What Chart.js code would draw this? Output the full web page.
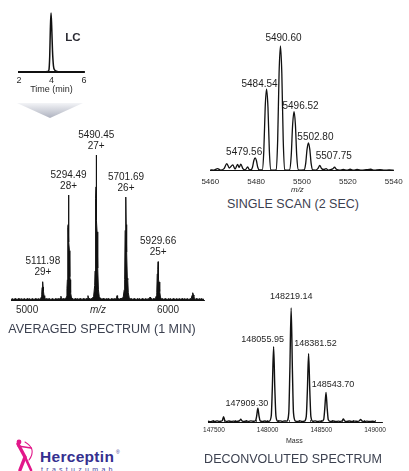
<!DOCTYPE html>
<html>
<head>
<meta charset="utf-8">
<script src="https://cdn.jsdelivr.net/npm/chart.js"></script>
<style>
html,body{margin:0;padding:0;background:#fff;}
body{width:409px;height:471px;position:relative;overflow:hidden;font-family:"Liberation Sans",Arial,sans-serif;}
canvas{position:absolute;}
svg{position:absolute;}
.cap{position:absolute;transform:translate(-50%,-50%);white-space:nowrap;font-size:12.5px;color:#3c4150;}
</style>
</head>
<body>
<canvas id="lc" width="110" height="100" style="left:0;top:0"></canvas>
<svg style="left:0;top:98px" width="100" height="24">
  <defs>
    <linearGradient id="ag" x1="0" y1="0" x2="0" y2="1">
      <stop offset="0" stop-color="#f3f4f7"/>
      <stop offset="1" stop-color="#aeb2bf"/>
    </linearGradient>
  </defs>
  <polygon points="17,5 83,5 50,20" fill="url(#ag)"/>
</svg>
<canvas id="scan" width="214" height="176" style="left:195px;top:20px"></canvas>
<canvas id="avg" width="215" height="205" style="left:0;top:120px"></canvas>
<canvas id="dec" width="214" height="160" style="left:195px;top:290px"></canvas>
<div class="cap" style="left:293px;top:204px">SINGLE SCAN (2 SEC)</div>
<div class="cap" style="left:102px;top:329px">AVERAGED SPECTRUM (1 MIN)</div>
<div class="cap" style="left:293px;top:459px">DECONVOLUTED SPECTRUM</div>
<svg style="left:0;top:430px" width="130" height="41">
  <g stroke="#e2188a" fill="none" stroke-linecap="round">
    <path d="M25 12 Q37 19 29 30" stroke-width="1.1"/>
    <path d="M18 16 L31 18" stroke-width="1.3"/>
    <path d="M18 14 L25 27 L20 40" stroke-width="3.4"/>
    <path d="M25 27 L31 40" stroke-width="2.6"/>
  </g>
  <circle cx="19" cy="12" r="2.4" fill="#e2188a"/>
  <text x="40" y="31.7" font-family="Liberation Sans, Arial, sans-serif" font-weight="bold" font-size="15.5" fill="#35308f" letter-spacing="0.3">Herceptin</text>
  <text x="116" y="24" font-family="Liberation Sans, Arial, sans-serif" font-size="5" fill="#35308f">®</text>
  <text x="41" y="41.5" font-family="Liberation Sans, Arial, sans-serif" font-size="7" fill="#4a44a0" letter-spacing="3.3">trastuzumab</text>
</svg>
<script>
// ---------------- DATA ----------------
// LC chromatogram: [time (min), relative signal]
const lcTrace = [[2.0,0],[3.0,0],[3.6,0.002],[3.78,0.01],[3.84,0.03],[3.89,0.25],[3.93,0.7],[3.97,0.95],[4.01,0.75],[4.06,0.35],[4.12,0.1],[4.2,0.03],[4.35,0.01],[4.6,0.005],[5.0,0],[6.0,0]];
const lcTicks = [2, 4, 6];

// Single scan spectrum: [m/z, relative intensity]
const scanSpectrum = [[5460,0.5],[5461.5,0.3],[5463.2,1.5],[5464.5,0.3],[5466,1.5],[5467.2,5.5],[5468.3,2.0],[5469.8,4.5],[5470.8,1.2],[5471.9,4.8],[5472.6,2.5],[5473.3,5.2],[5474.2,1.5],[5475.2,0.4],[5476.3,2.8],[5477.1,0.5],
 [5477.8,0.6],[5478.4,2.6],[5479.0,8],[5479.56,10.2],[5480.1,8],[5480.7,2.6],[5481.4,0.4],
 [5482.7,0.5],[5483.35,16],[5483.95,51],[5484.54,65.4],[5485.15,51],[5485.75,16],[5486.4,0.5],
 [5487.5,0.3],
 [5488.7,0.6],[5489.4,25],[5490.0,78],[5490.6,100],[5491.2,78],[5491.8,25],[5492.5,0.6],
 [5493.6,0.3],
 [5494.6,0.5],[5495.3,12],[5495.92,37],[5496.52,47.2],[5497.12,37],[5497.7,12],[5498.4,0.5],
 [5499.6,0.3],
 [5500.9,0.4],[5501.6,5.5],[5502.2,17],[5502.8,22.2],[5503.4,17],[5504.0,5.5],[5504.7,0.4],
 [5506,0.3],[5507.0,1.8],[5507.75,4],[5508.5,1.6],[5509.5,0.8],[5510.5,1.5],[5511.5,0.3],[5513.4,1.3],[5514.2,2.6],[5515,1.0],[5516.5,0.3],[5518,0.8],[5519.5,0.2],[5521,1],[5522.5,0.2],[5524,0.8],[5526,0.2],[5528,0.6],[5530,1.0],[5531.5,0.2],[5534,0.6],[5536,0.2],[5538,0.5],[5540,0.3]];
const scanPeakMz = [5479.56, 5484.54, 5490.60, 5496.52, 5502.80, 5507.75];
const scanPeakInt = [10.2, 65.4, 100, 47.2, 22.2, 4];

// Averaged spectrum: [m/z, relative intensity]
const avgSpectrum = [[4886,0.6],[4900,0.4],[4915,0.8],[4930,0.5],[4945,0.9],[4960,0.4],[4975,0.7],[4990,0.5],[5005,0.8],[5020,0.4],[5035,0.7],[5050,0.5],[5065,0.8],[5080,0.5],[5090,0.7],
 [5095,0.9],[5100.8,2.0],[5104,4],[5106.4,8.6],[5109.2,9.2],[5110.8,10],[5111.98,12.6],[5113.2,9],[5115,6.5],[5117.6,5.9],[5120.4,3],[5123.2,2.8],[5127,1.0],
 [5135,0.6],[5150,0.8],[5165,0.5],[5180,0.7],[5195,0.5],[5210,0.8],[5225,0.6],[5236,1.0],[5240,2.6],[5244,0.9],[5255,0.7],[5266,0.8],[5272,1.0],
 [5276,1.2],[5280,2.5],[5282.9,8],[5285.8,14],[5288.7,50],[5291.6,52],[5293.3,58],[5294.49,72.4],[5295.7,54],[5297.4,40],[5300.3,34],[5303.2,16],[5306.1,14],[5309,5],[5314,2.0],[5320,1.0],
 [5330,0.6],[5345,0.8],[5360,0.5],[5375,0.8],[5390,0.6],[5405,0.8],[5418,0.6],[5428,1.0],[5432,3.0],[5436,1.0],[5448,0.7],[5458,0.9],
 [5465,1.5],[5472,2.5],[5479.6,10],[5482,20],[5484.5,68],[5487.5,70],[5489.3,78],[5490.45,100],[5491.6,74],[5493.5,55],[5496.5,47],[5499.6,24],[5502.8,22],[5506,7],[5512,2.2],[5520,1.2],
 [5530,0.7],[5545,0.9],[5560,0.5],[5575,0.8],[5590,0.5],[5605,0.8],[5620,0.6],[5634,1.0],[5638,3.0],[5642,1.0],[5655,0.7],[5666,1.0],
 [5675,1.2],[5682,2],[5689.2,7.1],[5692.3,14],[5695.5,48],[5698.6,50],[5700.5,55],[5701.69,71],[5702.9,52],[5704.8,38],[5707.9,33],[5711,15],[5714.2,14],[5718,5],[5724,1.8],[5732,0.8],
 [5745,0.5],[5760,0.8],[5775,0.5],[5790,0.7],[5805,0.5],[5820,0.8],[5835,0.5],[5850,0.7],[5862,0.6],[5868,1.0],[5872,2.0],[5876,0.9],[5890,0.6],[5902,0.8],
 [5910,1.0],[5916.7,2.8],[5920,5],[5923.2,18],[5926.4,19],[5928.4,21],[5929.66,26.4],[5930.9,19],[5932.9,14],[5936.1,12.4],[5939.3,6],[5942.6,5.8],[5946,2],[5952,0.8],
 [5965,0.5],[5980,0.8],[5995,0.5],[6010,0.7],[6025,0.5],[6040,0.8],[6055,0.5],[6070,0.7],[6085,0.5],[6100,0.8],[6115,0.5],[6130,0.7],[6145,0.5],[6158,0.7],
 [6165,1.0],[6170,3.2],[6173.4,3.5],[6176.7,5],[6180,3.4],[6183.4,2.4],[6187,1.2],[6192,0.6],
 [6205,0.8],[6220,0.5],[6235,0.7],[6255,0.5]];
const avgPeakMz = [5111.98, 5294.49, 5490.45, 5701.69, 5929.66];
const avgPeakInt = [12.6, 72.4, 100, 71, 26.4];
const avgCharges = ['29+', '28+', '27+', '26+', '25+'];

// Deconvoluted spectrum: [mass, relative intensity]
const decSpectrum = [[147445,0.6],[147470,0.3],[147490,0.9],[147510,0.4],[147530,1.0],[147548,0.5],[147562,0.6],[147578,1.2],[147590,4.6],[147602,1.2],
 [147620,0.5],[147640,0.9],[147660,0.4],[147680,0.8],[147700,0.5],[147725,0.6],[147740,1.2],[147750,2.4],[147760,1.1],[147780,0.4],
 [147800,0.9],[147822,0.5],[147845,1.0],[147870,0.6],[147888,1.2],[147898,5.2],[147909.30,12],[147920,5.4],[147930,1.1],[147950,0.5],
 [147975,0.9],[147995,0.4],[148015,0.7],[148034,5.5],[148044,30],[148055.95,66],[148067,30],[148078,5],[148096,0.7],[148118,1.0],
 [148138,0.5],[148158,0.9],[148178,0.8],[148197,8],[148207,45],[148219.14,100],[148231,45],[148241,8],[148260,0.8],[148280,0.5],
 [148300,1.0],[148320,0.4],[148341,0.7],[148360,5],[148370,27],[148381.52,60],[148393,27],[148403,4.8],[148422,0.6],[148442,1.0],
 [148462,0.4],[148482,0.8],[148503,0.6],[148522,2.2],[148532,11.5],[148543.70,26],[148555,11.5],[148565,2.0],[148585,0.5],[148610,0.9],
 [148635,0.4],[148660,0.8],[148680,0.4],[148695,1.2],[148705,2.6],[148716,1.1],[148735,0.4],[148760,0.9],[148785,0.5],[148810,0.8],
 [148840,0.5],[148855,1.1],[148866,2.2],[148877,1.0],[148900,0.4],[148925,0.8],[148950,0.4],[148975,0.6],[149000,0.3]];
const decPeakMass = [147909.30, 148055.95, 148219.14, 148381.52, 148543.70];
const decPeakInt = [12, 66, 100, 60, 26];

// ---------------- LAYOUT / STYLE ----------------
const FAM = '"Liberation Sans", Arial, sans-serif';
const scanLabelDx = [-11, -7, 3, 6.5, 7, 14];
const scanLabelDy = [-6, -5, -8, -5, -6, -9];
const decLabelDx = [-11, -11, 0, 7, 7];
const decLabelDy = [-5, -7, -11, -10, -8];

function build(id, spectrum, s, items) {
  const annot = {
    id: 'annot_' + id,
    afterDatasetsDraw(chart) {
      const ctx = chart.ctx, xs = chart.scales.x, ys = chart.scales.y, area = chart.chartArea;
      ctx.save();
      ctx.textAlign = 'center';
      ctx.textBaseline = 'middle';
      for (const it of items) {
        const px = xs.getPixelForValue(it.xv) + (it.dx || 0);
        const py = (it.yv != null ? ys.getPixelForValue(it.yv) : area.bottom) + (it.dy || 0);
        ctx.font = it.font;
        ctx.fillStyle = it.color || '#1e1e1e';
        ctx.fillText(it.text, px, py);
      }
      ctx.restore();
    }
  };
  return new Chart(document.getElementById(id), {
    type: 'line',
    data: {
      datasets: [{
        data: spectrum.map(p => ({x: p[0], y: p[1]})),
        borderColor: '#111',
        backgroundColor: '#111',
        borderWidth: s.lw,
        fill: s.fill ? 'origin' : false,
        pointRadius: 0,
        pointHoverRadius: 0,
        tension: 0,
        cubicInterpolationMode: s.smooth ? 'monotone' : 'default',
        clip: false
      }]
    },
    options: {
      responsive: false,
      animation: false,
      devicePixelRatio: 1,
      events: [],
      layout: {autoPadding: false, padding: s.padding},
      plugins: {legend: {display: false}, tooltip: {enabled: false}},
      scales: {
        x: {
          type: 'linear',
          min: s.min, max: s.max,
          border: {display: true, color: '#111', width: s.axisW},
          grid: {display: true, drawOnChartArea: false, drawTicks: s.tl !== 0, tickLength: s.tl, color: '#333', lineWidth: 0.8},
          ticks: {
            stepSize: s.step, autoSkip: false, maxRotation: 0, minRotation: 0, includeBounds: false,
            padding: s.tp, color: '#2a2a2a', font: {family: FAM, size: s.fs},
            callback: s.cb
          }
        },
        y: {display: false, min: 0, max: s.yMax}
      }
    },
    plugins: [annot]
  });
}

// LC panel
build('lc', lcTrace, {
  lw: 1.5, fill: false, smooth: true, padding: {left: 19, right: 26, top: 10, bottom: 10},
  min: 2, max: 6, axisW: 2, tl: 0, step: 2, tp: 3.6, fs: 9, yMax: 1,
  cb: v => lcTicks.includes(v) ? String(v) : ''
}, [
  {text: 'LC', xv: 5.32, yv: 0.55, font: 'bold 11.5px ' + FAM, color: '#2b2b33'},
  {text: 'Time (min)', xv: 4.0, dy: 18, font: '9px ' + FAM, color: '#2a2a2a'}
]);

// Single scan panel
build('scan', scanSpectrum, {
  lw: 1.3, fill: false, smooth: true, padding: {left: 7.5, right: 11.5, top: 26, bottom: 3.1},
  min: 5460, max: 5540, axisW: 1, tl: 0, step: 20, tp: 6.4, fs: 8, yMax: 100,
  cb: v => String(v)
}, scanPeakMz.map((m, i) => ({
  text: m.toFixed(2), xv: m, yv: scanPeakInt[i], dx: scanLabelDx[i], dy: scanLabelDy[i], font: '10px ' + FAM
})).concat([{text: 'm/z', xv: 5498, dy: 19, font: 'italic 8px ' + FAM, color: '#2a2a2a'}]));

// Averaged panel
build('avg', avgSpectrum, {
  lw: 1, fill: true, smooth: false, padding: {left: 11, right: 11, top: 35, bottom: 3},
  min: 4886, max: 6255, axisW: 1, tl: -2, step: 20, tp: 6, fs: 10, yMax: 100,
  cb: v => (v % 1000 === 0 ? String(v) : '')
}, avgPeakMz.flatMap((m, i) => [
  {text: m.toFixed(2), xv: m, yv: avgPeakInt[i], dy: -20, font: '10px ' + FAM},
  {text: avgCharges[i], xv: m, yv: avgPeakInt[i], dy: -9, font: '10px ' + FAM}
]).concat([{text: 'm/z', xv: 5503, dy: 10, font: 'italic 10px ' + FAM, color: '#2a2a2a'}]));

// Deconvoluted panel
build('dec', decSpectrum, {
  lw: 1.4, fill: false, smooth: true, padding: {left: 13, right: 27, top: 18, bottom: 10},
  min: 147445, max: 149065, axisW: 1, tl: -2, step: 100, tp: 6.1, fs: 6.5, yMax: 100,
  cb: v => (v % 500 === 0 ? String(v) : '')
}, decPeakMass.map((m, i) => ({
  text: m.toFixed(2), xv: m, yv: decPeakInt[i], dx: decLabelDx[i], dy: decLabelDy[i], font: '9px ' + FAM
})).concat([{text: 'Mass', xv: 148249, dy: 19, font: '7px ' + FAM, color: '#2a2a2a'}]));
</script>
</body>
</html>
